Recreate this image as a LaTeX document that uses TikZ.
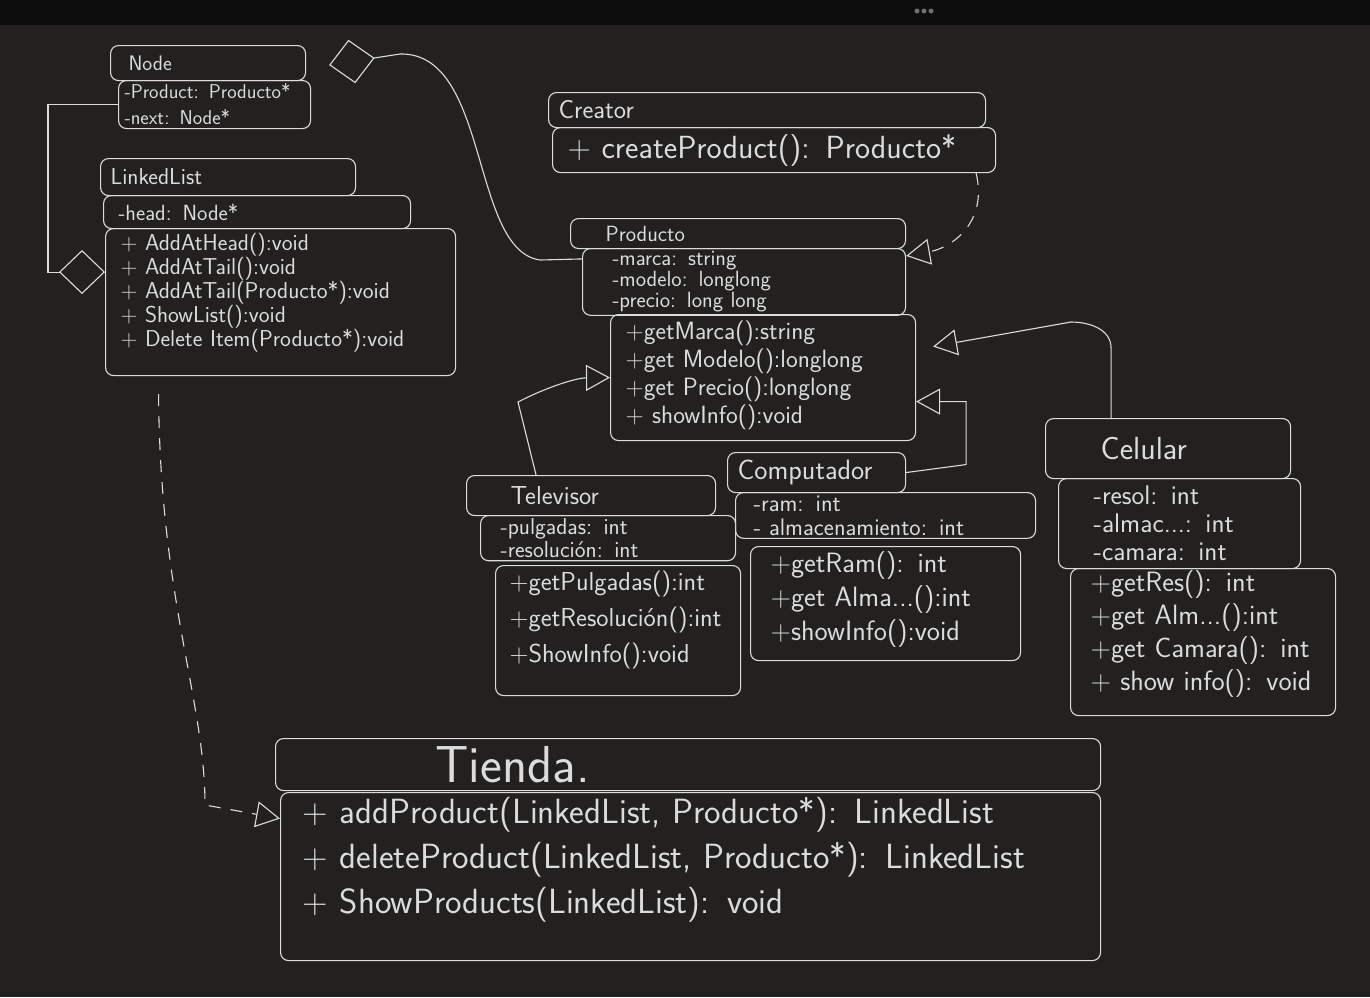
\documentclass[tikz,border=0pt]{standalone}
\usetikzlibrary{arrows.meta}
\definecolor{board}{HTML}{222120}
\definecolor{barcol}{HTML}{0C0C0C}
\definecolor{chalk}{HTML}{DCDCDC}
\definecolor{dotcol}{HTML}{6E6E6E}
\newcommand{\fs}[2]{\sffamily\fontsize{#1}{#2}\selectfont}
\tikzset{
  cls/.style={draw=chalk, line width=1.1pt, rounded corners=8pt, anchor=north west,
    align=left, inner xsep=10pt, inner ysep=3pt, text=chalk},
  inherit/.style={draw=chalk, line width=1.1pt, -{Triangle[open, length=24pt, width=26pt]}},
  realize/.style={inherit, dash pattern=on 12pt off 10pt},
  aggr/.style={draw=chalk, line width=1.1pt, -{Diamond[open, length=46pt, width=44pt]}},
}
\begin{document}
\begin{tikzpicture}[x=1pt, y=-1pt]
    \useasboundingbox (0,0) rectangle (1370,997);
    \fill[board] (0,0) rectangle (1370,997);
    \fill[barcol] (0,0) rectangle (1370,25);
    \foreach \dx in {917,924,931} \fill[dotcol] (\dx,11) circle[radius=2.5];

    % Node
    \node[cls, text width=175pt, minimum height=35pt, font=\fs{21}{24}] (nodeT) at (110,45) {\hspace*{8pt}Node};
    \node[cls, text width=180pt, minimum height=48pt, font=\fs{20}{26}, inner xsep=6pt] (nodeA) at (118,80) {-Product: Producto*\\-next: Node*};

    % LinkedList
    \node[cls, text width=235pt, minimum height=37pt, font=\fs{23}{24}] (llT) at (100,158) {LinkedList};
    \node[cls, text width=277pt, minimum height=33pt, font=\fs{22}{24}, inner xsep=15pt] (llA) at (103,195) {-head: Node*};
    \node[cls, text width=320pt, text height=19pt, text depth=122pt, font=\fs{23}{24}, inner xsep=15pt] (llM) at (105,228)
        {+ AddAtHead():void\\+ AddAtTail():void\\+ AddAtTail(Producto*):void\\+ ShowList():void\\+ Delete Item(Producto*):void};

    % Creator
    \node[cls, text width=417pt, minimum height=35pt, font=\fs{26}{28}] (crT) at (548,92) {Creator};
    \node[cls, text width=413pt, minimum height=45pt, font=\fs{32}{34}, inner xsep=15pt] (crM) at (552,127) {+ createProduct(): Producto*};

    % Producto
    \node[cls, text width=315pt, minimum height=30pt, font=\fs{22}{24}] (prT) at (570,218) {\hspace*{25pt}Producto};
    \node[cls, text width=263pt, font=\fs{22}{21}, inner xsep=30pt] (prA) at (582,248)
        {-marca: string\\-modelo: longlong\\-precio: long long};
    \node[cls, text width=275pt, text height=22pt, text depth=98pt, font=\fs{25}{28}, inner xsep=15pt] (prM) at (610,314)
        {+getMarca():string\\+get Modelo():longlong\\+get Precio():longlong\\+ showInfo():void};

    % Televisor
    \node[cls, text width=229pt, minimum height=40pt, font=\fs{26}{28}] (tvT) at (466,475) {\hspace*{34pt}Televisor};
    \node[cls, text width=215pt, font=\fs{23}{23}, inner xsep=20pt] (tvA) at (480,515) {-pulgadas: int\\-resolución: int};
    \node[cls, text width=217pt, text height=22pt, text depth=102pt, font=\fs{26}{36}, inner xsep=14pt] (tvM) at (495,565)
        {+getPulgadas():int\\+getResolución():int\\+ShowInfo():void};

    % Computador
    \node[cls, text width=158pt, minimum height=40pt, font=\fs{28}{30}] (cmT) at (727,452) {Computador};
    \node[cls, text width=264pt, font=\fs{24}{24}, inner xsep=18pt] (cmA) at (735,492) {-ram: int\\- almacenamiento: int};
    \node[cls, text width=230pt, text height=23pt, text depth=85pt, font=\fs{28}{34}, inner xsep=20pt] (cmM) at (750,546)
        {+getRam(): int\\+get Alma...():int\\+showInfo():void};

    % Celular
    \node[cls, text width=225pt, minimum height=60pt, font=\fs{32}{34}] (ceT) at (1045,418) {\hspace*{45pt}Celular};
    \node[cls, text width=172pt, minimum height=90pt, font=\fs{27}{28}, inner xsep=35pt] (ceA) at (1058,478)
        {-resol: int\\-almac...: int\\-camara: int};
    \node[cls, text width=225pt, text height=20pt, text depth=121pt, font=\fs{28}{33}, inner xsep=20pt] (ceM) at (1070,568)
        {+getRes(): int\\+get Alm...():int\\+get Camara(): int\\+ show info(): void};

    % Tienda
    \node[cls, text width=805pt, minimum height=52pt, font=\fs{52}{54}] (tiT) at (275,738) {\hspace*{150pt}Tienda.};
    \node[cls, text width=776pt, text height=28pt, text depth=134pt, font=\fs{35}{45}, inner xsep=22pt] (tiM) at (280,792)
        {+ addProduct(LinkedList, Producto*): LinkedList\\+ deleteProduct(LinkedList, Producto*): LinkedList\\+ ShowProducts(LinkedList): void};

    % relations
    \coordinate (nodeDia) at ([xshift=23pt,yshift=-2pt]nodeT.east);
    \draw[aggr] (nodeA.west) -- ++(-70,0) |- ([yshift=30pt]llM.west);
    \draw[aggr] ([yshift=23pt]prA.west) -- (540,260) .. controls (470,250) and (490,52) .. (400,54) -- (nodeDia);
    \draw[realize] ([xshift=-20pt]crM.south east) .. controls +(12,50) and +(45,-8) .. ([yshift=26pt]prA.east);
    \draw[inherit] ([xshift=-57pt]ceT.north) -- ++(0,-70) to[out=90, in=0] ++(-40,-26) -- ([xshift=17pt,yshift=31pt]prM.east);
    \draw[inherit] (cmT.east) -- ++(60,-8) |- ([yshift=-24pt]prM.east);
    \draw[inherit] ([xshift=-55pt]tvT.north) -- (518,402) .. controls (545,388) and (575,378) .. (prM.west);
    \draw[realize] ([xshift=-122pt,yshift=-18pt]llM.south) .. controls (160,600) and (205,700) .. (205,805) -- ([yshift=58pt]tiM.west);
\end{tikzpicture}
\end{document}
